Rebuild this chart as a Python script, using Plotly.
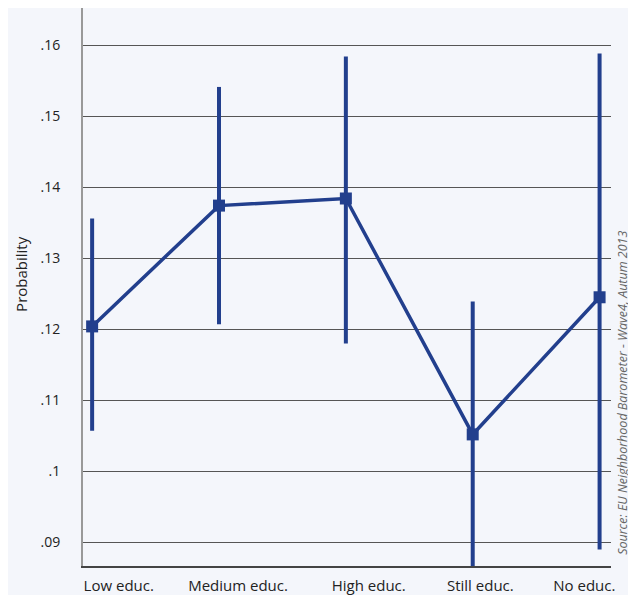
import plotly.graph_objects as go

categories = ["Low educ.", "Medium educ.", "High educ.", "Still educ.", "No educ."]
probability = [0.1204, 0.1374, 0.1384, 0.1052, 0.1245]
upper = [0.1356, 0.1541, 0.1584, 0.1239, 0.1588]
lower = [0.1057, 0.1207, 0.1180, 0.0850, 0.0890]
y_ticks = [0.09, 0.10, 0.11, 0.12, 0.13, 0.14, 0.15, 0.16]
y_tick_labels = [".09", ".1", ".11", ".12", ".13", ".14", ".15", ".16"]
source_text = "Source: EU Neighborhood Barometer - Wave4, Autum 2013"

x_idx = list(range(len(categories)))
err_plus = [u - p for u, p in zip(upper, probability)]
err_minus = [p - l for p, l in zip(probability, lower)]

BLUE = "#223f8d"
BG = "#f4f6fb"
FONT = "Open Sans, Noto Sans, sans-serif"

fig = go.Figure()
fig.add_trace(go.Scatter(
    x=x_idx, y=probability, mode="lines+markers",
    line=dict(color=BLUE, width=3.5),
    marker=dict(symbol="square", size=12, color=BLUE),
    error_y=dict(type="data", array=err_plus, arrayminus=err_minus,
                 color=BLUE, thickness=4, width=0, visible=True),
    showlegend=False,
))

# label offsets (in category units) to mimic the reference's label placement
label_offsets = [0.21, 0.15, 0.18, 0.06, -0.12]
fig.update_layout(
    width=628, height=587,
    margin=dict(l=75, r=25, t=0, b=25),
    paper_bgcolor=BG, plot_bgcolor=BG,
    font=dict(family=FONT, size=14, color="#222"),
    xaxis=dict(
        range=[-0.072, 4.09],
        tickvals=[i + o for i, o in zip(x_idx, label_offsets)],
        ticktext=categories,
        showgrid=False, zeroline=False,
        showline=True, linecolor="#444", linewidth=1.5,
        ticks="", ticklabelstandoff=5,
        tickfont=dict(size=15, color="#222"),
    ),
    yaxis=dict(
        range=[0.08668, 0.16521],
        tickvals=y_ticks, ticktext=y_tick_labels,
        showgrid=True, gridcolor="#555", gridwidth=1,
        zeroline=False,
        showline=True, linecolor="#999", linewidth=2,
        ticks="", ticklabelstandoff=18,
        tickfont=dict(size=14, color="#222"),
    ),
    annotations=[
        dict(text="Probability", xref="paper", yref="paper", x=0, y=(553.7 - 264) / 553.4,
             xshift=-62, textangle=-90, showarrow=False, xanchor="center", yanchor="middle",
             font=dict(size=15, color="#222", family=FONT)),
        dict(text="<i>" + source_text + "</i>", xref="paper", yref="paper", x=1,
             y=(553.7 - 382) / 553.4, xshift=12, textangle=-90, showarrow=False,
             xanchor="center", yanchor="middle",
             font=dict(size=12.5, color="#666", family=FONT)),
    ],
)

fig.write_html("out.html")
